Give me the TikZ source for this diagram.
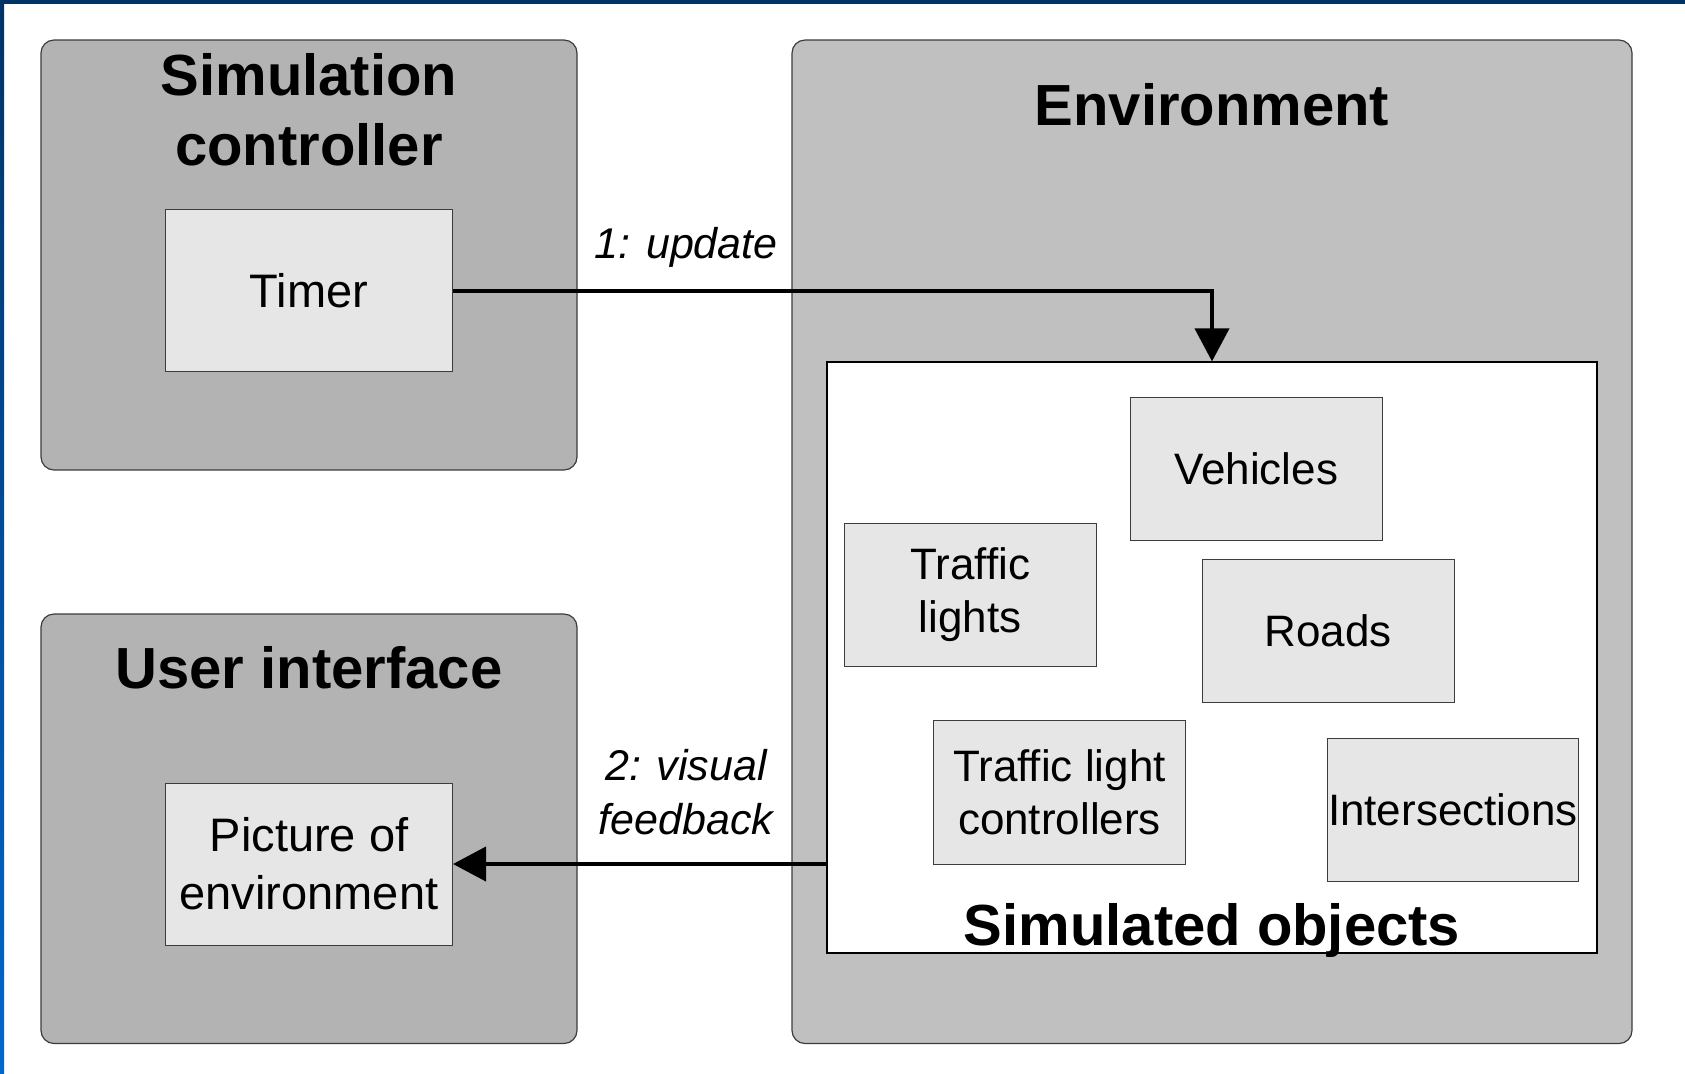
\documentclass[tikz,border=0pt]{standalone}
\usepackage{fontspec}
\setmainfont{Liberation Sans}
\usetikzlibrary{arrows.meta,positioning}
\definecolor{outercol}{RGB}{179,179,179}
\definecolor{envcol}{RGB}{192,192,192}
\definecolor{innercol}{RGB}{230,230,230}
\definecolor{edgecol}{RGB}{60,60,60}
\definecolor{framedark}{RGB}{0,51,102}
\definecolor{framelight}{RGB}{0,102,204}

\begin{document}
\begin{tikzpicture}[
    x=0.5pt, y=-0.5pt,
    panel/.style={draw=edgecol, fill=outercol, rounded corners=6.5pt, line width=0.6pt, inner sep=0pt},
    title/.style={font=\fontsize{29}{35}\selectfont\bfseries, align=center},
    part/.style={draw=edgecol, fill=innercol, line width=0.5pt, minimum width=125.75pt, minimum height=71.75pt, font=\fontsize{22}{26.5}\selectfont, align=center, inner sep=0pt},
    bigpart/.style={part, minimum width=143.5pt, minimum height=81pt, font=\fontsize{23.5}{29}\selectfont},
    msg/.style={font=\fontsize{21.5}{27}\selectfont\itshape, align=center},
    arr/.style={-{Triangle[length=16.5pt, width=17pt]}, line width=2pt},
]
\fill[white] (0,0) rectangle (1685,1073);
\useasboundingbox (0,0) rectangle (1685,1073);
\shade[top color=framedark, bottom color=framelight] (0,0) rectangle (4,1073);
\fill[framedark] (0,0) rectangle (1685,4);

% panels
\node[panel, minimum width=268pt, minimum height=215pt] (simctrl) at (309,255) {};
\node[panel, minimum width=268pt, minimum height=214.75pt] (ui) at (309,828.75) {};
\node[panel, fill=envcol, minimum width=420pt, minimum height=501.75pt] (env) at (1212,541.75) {};
\node[draw=black, fill=white, line width=0.6pt, minimum width=385pt, minimum height=295.5pt] (simobj) at (1212,657.5) {};

\node[title] (simtitle) at (309,110) {Simulation\\controller};
\node[title, anchor=base] (envtitle) at (1212,125) {Environment};
\node[title, anchor=base] (uititle) at (309,688) {User interface};
\node[title, anchor=base] (objtitle) at (1212,945) {Simulated objects};

% parts
\node[bigpart] (timer) at (309,290.75) {Timer};
\node[bigpart] (picture) at (309,864) {Picture of\\environment};
\node[part] (vehicles) at (1256.25,469) {Vehicles};
\node[part] (lights) at (970.25,595) {Traffic\\lights};
\node[part] (roads) at (1328.25,631) {Roads};
\node[part] (ctrls) at (1059.5,792.5) {Traffic light\\controllers};
\node[part] (inters) at (1452.75,810) {Intersections};

% messages
\draw[arr] (timer.east) -| (simobj.north);
\draw[arr] (simobj.west |- picture.east) -- (picture.east);
\node[msg, anchor=base] (update) at (686,258) {1: update};
\node[msg] (feedback) at (686,792) {2: visual\\feedback};
\end{tikzpicture}
\end{document}
